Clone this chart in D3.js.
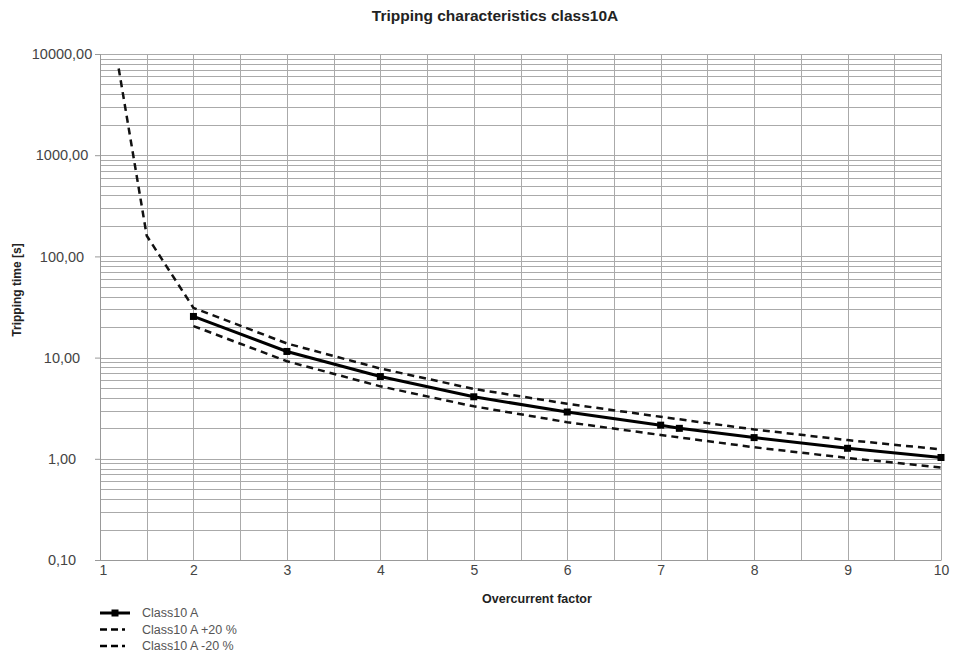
<!DOCTYPE html>
<html>
<head>
<meta charset="utf-8">
<script src="https://cdn.jsdelivr.net/npm/d3@7"></script>
<style>
  body { margin: 0; background: #fff; }
  text { font-family: "Liberation Sans", Arial, sans-serif; }
</style>
</head>
<body>
<svg></svg>
<script>
const size = { w: 953, h: 657 };
const margin = { t: 54, r: 12, b: 97, l: 100 };

// overcurrent factor vs tripping time [s]
const class10 = [[2, 25.5], [3, 11.5], [4, 6.5], [5, 4.1], [6, 2.9], [7, 2.15], [7.2, 2.0], [8, 1.62], [9, 1.27], [10, 1.03]];
const plus20 = [[1.2, 7200], [1.5, 160], [2, 31], [3, 13.8], [4, 7.8], [5, 4.9], [6, 3.5], [7, 2.6], [8, 1.95], [9, 1.53], [10, 1.24]];
const minus20 = [[2, 20.5], [3, 9.2], [4, 5.2], [5, 3.3], [6, 2.3], [7, 1.72], [8, 1.3], [9, 1.02], [10, 0.82]];

const xTicks = [1, 2, 3, 4, 5, 6, 7, 8, 9, 10];
const xGrid = [1, 1.5, 2, 2.5, 3, 3.5, 4, 4.5, 5, 5.5, 6, 6.5, 7, 7.5, 8, 8.5, 9, 9.5, 10];
const yTicks = [0.1, 1, 10, 100, 1000, 10000];

const legendItems = [
	{ name: "Class10 A", dash: null, marker: true },
	{ name: "Class10 A +20 %", dash: "7,4,7,4,3", marker: false },
	{ name: "Class10 A -20 %", dash: "7,4,7,4,3", marker: false },
];

const svg = d3.select("svg").attr("width", size.w).attr("height", size.h);

const x = d3.scaleLinear().domain([1, 10]).range([margin.l, size.w - margin.r]);
const y = d3.scaleLog().domain([0.1, 10000]).range([size.h - margin.b, margin.t]);

// minor log grid values
let yGrid = [];
yTicks.slice(0, -1).forEach((d) => {
	for (let k = 1; k < 10; k++) yGrid.push(d * k);
});
yGrid.push(10000);

const gridG = svg.append("g").attr("stroke", "#aaa").attr("stroke-width", 1);
gridG.selectAll("line.h")
	.data(yGrid)
	.join("line")
	.attr("class", "h")
	.attr("x1", x(1))
	.attr("x2", x(10))
	.attr("y1", (d) => Math.round(y(d)) + 0.5)
	.attr("y2", (d) => Math.round(y(d)) + 0.5);
gridG.selectAll("line.v")
	.data(xGrid)
	.join("line")
	.attr("class", "v")
	.attr("x1", (d) => Math.round(x(d)) + 0.5)
	.attr("x2", (d) => Math.round(x(d)) + 0.5)
	.attr("y1", y(10000))
	.attr("y2", y(0.1));

// axes
const fmt = (d) => d3.format(".2f")(d).replace(".", ",");
const yAxis = svg.append("g")
	.attr("transform", `translate(${margin.l},0)`)
	.call(d3.axisLeft(y).tickValues(yTicks).tickFormat(fmt).tickSize(5).tickPadding(0));
yAxis.select(".domain").attr("stroke", "#999");
yAxis.selectAll(".tick line").attr("stroke", "#999");
yAxis.selectAll(".tick text")
	.attr("x", -38)
	.attr("text-anchor", "middle")
	.attr("fill", "#444")
	.style("font-size", "14.5px");

const xAxis = svg.append("g")
	.attr("transform", `translate(0,${size.h - margin.b})`)
	.call(d3.axisBottom(x).tickValues(xTicks).tickFormat(d3.format("d")).tickSize(0).tickPadding(5));
xAxis.select(".domain").attr("stroke", "#999");
xAxis.selectAll(".tick text")
	.attr("fill", "#444")
	.style("font-size", "14px")
	.attr("dx", (d) => (d === 1 ? 3 : 0));

// curves
const line = d3.line().x((d) => x(d[0])).y((d) => y(d[1]));

svg.append("path")
	.datum(plus20)
	.attr("d", line)
	.attr("fill", "none")
	.attr("stroke", "#111")
	.attr("stroke-width", 2.5)
	.attr("stroke-dasharray", "7,5");

svg.append("path")
	.datum(minus20)
	.attr("d", line)
	.attr("fill", "none")
	.attr("stroke", "#111")
	.attr("stroke-width", 2.5)
	.attr("stroke-dasharray", "7,5");

svg.append("path")
	.datum(class10)
	.attr("d", line)
	.attr("fill", "none")
	.attr("stroke", "#000")
	.attr("stroke-width", 3);

svg.selectAll("rect.marker")
	.data(class10)
	.join("rect")
	.attr("class", "marker")
	.attr("x", (d) => x(d[0]) - 3.5)
	.attr("y", (d) => y(d[1]) - 3.5)
	.attr("width", 7)
	.attr("height", 7)
	.attr("fill", "#000");

// titles
svg.append("text")
	.attr("x", 495)
	.attr("y", 21)
	.attr("text-anchor", "middle")
	.attr("font-weight", "bold")
	.attr("fill", "#222")
	.style("font-size", "15.5px")
	.text("Tripping characteristics class10A");

svg.append("text")
	.attr("x", 537)
	.attr("y", 603)
	.attr("text-anchor", "middle")
	.attr("font-weight", "bold")
	.attr("fill", "#222")
	.style("font-size", "12.5px")
	.text("Overcurrent factor");

svg.append("text")
	.attr("transform", "translate(21,290) rotate(-90)")
	.attr("text-anchor", "middle")
	.attr("font-weight", "bold")
	.attr("fill", "#222")
	.style("font-size", "12px")
	.text("Tripping time [s]");

// legend
const legendG = svg.append("g").attr("transform", "translate(100,613)");
const rows = legendG.selectAll("g")
	.data(legendItems)
	.join("g")
	.attr("transform", (d, i) => `translate(0,${i * 16.5})`);
rows.append("line")
	.attr("x1", 0)
	.attr("x2", 30)
	.attr("stroke", "#000")
	.attr("stroke-width", (d) => (d.marker ? 3 : 2.5))
	.attr("stroke-dasharray", (d) => d.dash);
rows.filter((d) => d.marker)
	.append("rect")
	.attr("x", 11.5)
	.attr("y", -3.5)
	.attr("width", 7)
	.attr("height", 7);
rows.append("text")
	.attr("x", 42)
	.attr("dy", "0.35em")
	.attr("fill", "#555")
	.style("font-size", "12.5px")
	.text((d) => d.name);
</script>
</body>
</html>
